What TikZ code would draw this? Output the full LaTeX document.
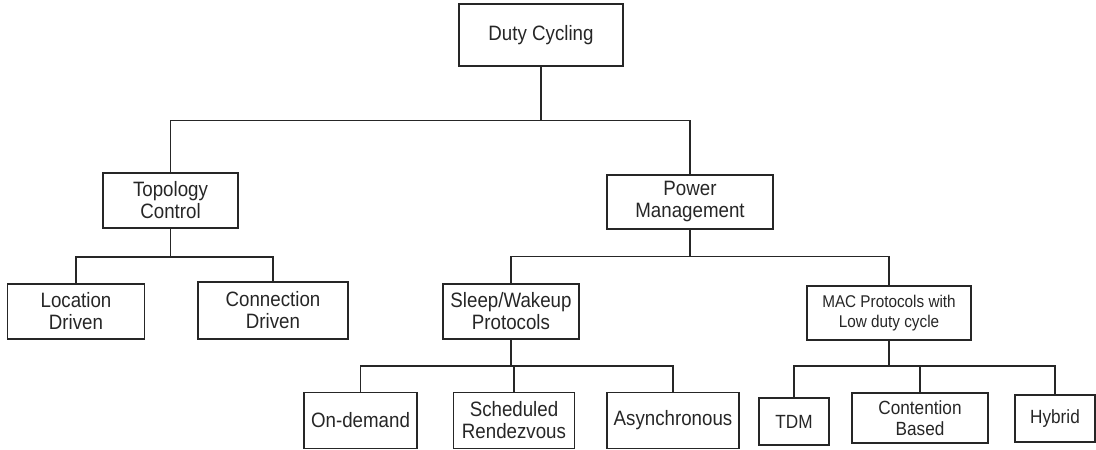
\documentclass[tikz,border=0pt]{standalone}
\usepackage{fontspec}
\setmainfont[FakeStretch=0.9]{Liberation Sans}
\begin{document}
\begin{tikzpicture}[x=1pt,y=-1pt,
  box/.style={draw=black!85, line width=1.5pt, rectangle, inner sep=0pt,
    align=center, text=black!85, font=\fontsize{20.8}{22}\selectfont},
  smallbox/.style={box, font=\fontsize{19.1}{21}\selectfont},
  link/.style={draw=black!85, line width=1.4pt}]
\useasboundingbox (0,0) rectangle (1096,450);

% level 0
\node[box, minimum width=164pt, minimum height=62pt] (duty) at (541,35) {Duty Cycling};

% level 1
\node[box, minimum width=135pt, minimum height=55pt] (topo) at (170.5,200.5) {Topology\\Control};
\node[box, minimum width=166pt, minimum height=54pt] (power) at (690,202) {Power\\Management};

% level 2
\node[box, minimum width=137pt, minimum height=55pt] (loc) at (76,311.5) {Location\\Driven};
\node[box, minimum width=150pt, minimum height=57pt] (conn) at (273,310.5) {Connection\\Driven};
\node[box, minimum width=136pt, minimum height=55pt] (sleep) at (511,311.5) {Sleep/Wakeup\\Protocols};
\node[box, minimum width=164pt, minimum height=54pt, font=\fontsize{17}{20}\selectfont] (mac) at (889,313) {MAC Protocols with\\Low duty cycle};

% level 3
\node[box, minimum width=113pt, minimum height=56pt] (ondemand) at (360.5,420.5) {On-demand};
\node[box, minimum width=121pt, minimum height=56pt] (sched) at (514,420.5) {Scheduled\\Rendezvous};
\node[box, minimum width=132pt, minimum height=56pt] (async) at (673,420.5) {Asynchronous};
\node[smallbox, minimum width=70pt, minimum height=47pt] (tdm) at (794,421.5) {TDM};
\node[smallbox, minimum width=136pt, minimum height=50pt] (cont) at (920,418) {Contention\\Based};
\node[smallbox, minimum width=80pt, minimum height=47pt] (hyb) at (1055,418.5) {Hybrid};

% branch points
\coordinate (b0) at (541,120.5);
\coordinate (b1) at (170.5,257);
\coordinate (b2) at (690,256.5);
\coordinate (b3) at (511,366);
\coordinate (b4) at (889,366);

% connectors
\draw[link] (duty.south) -- (b0);
\draw[link] (b0) -| (topo.north);
\draw[link] (b0) -| (power.north);

\draw[link] (topo.south) -- (b1);
\draw[link] (b1) -| (loc.north);
\draw[link] (b1) -| (conn.north);

\draw[link] (power.south) -- (b2);
\draw[link] (b2) -| (sleep.north);
\draw[link] (b2) -| (mac.north);

\draw[link] (sleep.south) -- (b3);
\draw[link] (b3) -| (ondemand.north);
\draw[link] (b3) -| (sched.north);
\draw[link] (b3) -| (async.north);

\draw[link] (mac.south) -- (b4);
\draw[link] (b4) -| (tdm.north);
\draw[link] (b4) -| (cont.north);
\draw[link] (b4) -| (hyb.north);
\end{tikzpicture}
\end{document}
